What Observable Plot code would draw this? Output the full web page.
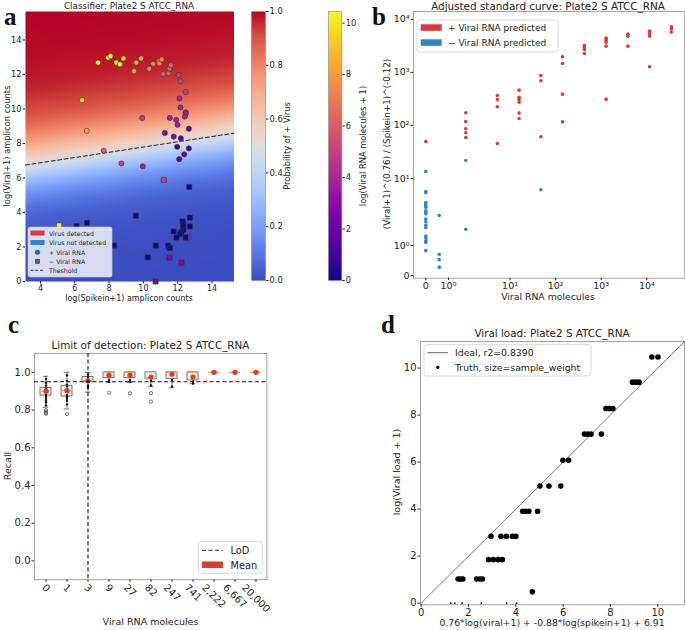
<!DOCTYPE html>
<html><head><meta charset="utf-8">
<script src="https://cdn.jsdelivr.net/npm/d3@7"></script>
<script src="https://cdn.jsdelivr.net/npm/@observablehq/plot@0.6"></script>
<style>
body{margin:0;background:#fff;}
#root{position:relative;width:685px;height:630px;overflow:hidden;background:#fff;}
</style></head>
<body><div id="root"></div>
<script>
// ---------------- DATA ----------------
// Panel a: + Viral RNA samples (circles): spike-in log, viral log, colour value log(viral molecules+1)
const aPosX = [7.36,7.95,8.08,8.43,8.63,8.84,6.43,6.70,9.46,9.58,9.87,10.34,10.57,10.90,10.92,11.07,11.15,11.46,11.52,11.60,12.06,12.16,12.47,12.11,12.16,12.47,12.47,12.41,9.93,11.54,11.91,11.99,12.65,11.25,11.77,12.18,11.97,12.65,7.69,12.38,12.09,8.72,9.97];
const aPosY = [12.69,12.98,13.06,12.69,12.59,12.93,10.51,8.73,12.19,12.69,12.93,12.33,12.62,12.77,12.64,12.87,12.03,12.07,12.34,12.53,11.97,11.61,10.98,10.61,10.09,9.81,9.72,9.56,9.48,9.48,9.37,9.08,8.86,8.61,8.40,8.30,7.81,7.72,7.58,7.37,7.09,6.84,6.68];
const aPosV = [10.45,10.45,10.45,10.45,10.45,9.35,9.35,8.25,8.25,8.25,8.25,7.15,7.15,7.15,7.15,7.15,6.05,6.05,6.05,6.05,5.0,5.0,5.0,3.9,3.9,3.9,3.9,3.9,5.0,3.9,3.9,3.9,1.85,2.85,2.85,1.85,1.05,1.05,6.05,1.85,1.85,5.0,3.9];
// Panel a: - Viral RNA samples (squares)
const aNegX = [11.19,12.67,9.56,5.09,6.10,6.72,12.71,12.28,12.32,12.33,12.71,12.33,12.22,12.14,11.76,11.93,12.55,12.46,8.30,10.72,11.44,11.54,10.26,11.52,12.22,10.71];
const aNegY = [5.89,5.48,3.81,3.25,3.21,3.40,3.70,3.48,3.33,3.17,3.19,3.01,2.86,2.74,2.90,2.55,2.55,2.55,2.08,2.08,2.08,1.94,1.40,1.38,1.09,0.0];
const aNegV = [5.0,0,0,10.45,0,0,0,0,0,0,0,0,0,0,0,0,5.0,0,0,0,0,0,0,2.85,2.85,2.85];
// Panel a: fitted classifier (threshold line y = A + B*x, logistic steepness)
const THR_A = 6.274, THR_B = 0.152, K_UP = 0.75, K_DOWN = 0.95;

// Panel b: viral load levels (x) and adjusted values (y) per level
const bLoads = [0, 0.59, 1.76, 5.27, 15.8, 47.5, 142, 427, 1281, 3844, 11530, 34600];
const bPosVals = [[49.8],[],[173,119,86.5,72.6,59.3],[367,309,225,45.7],[463,341,309,275,171,135],[877,695,61.1],[1972,1476,389,117],[3229,2958,2709,2281],[4426,4063,3707,3127,313],[5275,4832,3127],[6000,5434,4832,1280],[7262,6671,5756]];
const bNegVals = [[13.5,5.68,5.36,3.52,3.33,3.05,2.87,2.45,2.31,2.15,1.88,1.79,1.67,1.59,1.32,1.26,1.17,1.10,0.83],[2.0,0.71,0.53,0.28],[21.8,1.54],[],[],[6.11],[],[],[],[],[],[]];
const bTickVals = [0, 1, 10, 100, 1000, 10000];
const bTickLabels = ["0", "10⁰", "10¹", "10²", "10³", "10⁴"];

// Panel c: recall box statistics per category
const cCats = ["0","1","3","9","27","82","247","741","2,222","6,667","20,000"];
const cQ1   = [0.877,0.872,0.948,0.970,0.970,0.963,0.965,0.957,1,1,1];
const cMed  = [0.900,0.904,0.955,1.000,1.000,0.970,1.000,1.000,1,1,1];
const cQ3   = [0.918,0.929,0.975,1.000,1.000,1.000,1.000,1.000,1,1,1];
const cLo   = [0.815,0.806,0.895,0.947,0.947,0.925,0.918,0.940,1,1,1];
const cHi   = [0.979,1.000,1.000,1.000,1.000,1.000,1.000,1.000,1,1,1];
const cMean = [0.900,0.903,0.955,0.985,0.985,0.975,0.990,0.975,1,1,1];
const cOutlierCat = ["0","0","0","0","1","9","27","82","82"];
const cOutlierVal = [0.800,0.792,0.786,0.780,0.779,0.893,0.889,0.890,0.845];
const cStripCat = ["0","0","0","0","0","0","0","0","0","0","0","1","1","1","1","1","1","1","1","1","1","3","3","3","3","3","9","9","27","27","82","82","247","247","741","741"];
const cStripVal = [0.965,0.945,0.93,0.915,0.895,0.88,0.87,0.86,0.85,0.84,0.825,0.985,0.955,0.935,0.925,0.91,0.88,0.87,0.86,0.85,0.83,0.99,0.975,0.95,0.93,0.92,0.96,0.95,0.96,0.95,0.955,0.93,0.96,0.925,0.95,0.94];
const cLoD = "3", cThreshold = 0.95;

// Panel d: predicted vs truth
const dX = [9.75,10.01,8.93,9.07,9.21,7.81,7.96,8.10,6.90,7.04,7.18,7.62,5.99,6.23,5.02,5.40,5.90,4.29,4.42,4.55,4.92,2.95,3.37,3.60,3.85,4.00,2.85,3.05,3.26,3.43,1.56,1.66,1.76,2.34,2.48,2.59,4.70,1.25,1.42,1.73,2.54,3.61,4.03];
const dY = [10.47,10.47,9.40,9.40,9.40,8.28,8.28,8.28,7.19,7.19,7.19,7.19,6.08,6.08,4.98,4.98,4.98,3.91,3.91,3.91,3.91,2.84,2.84,2.84,2.84,2.84,1.85,1.85,1.85,1.85,1.03,1.03,1.03,1.03,1.03,1.03,0.48,0,0,0,0,0,0];
const dW = [1,1,1,1,1,1,1,1,1,1,1,1,1,1,1,1,1,1,1,1,1,1,1,1,1,1,1,1,1,1,1,1,1,1,1,1,1,0.1,0.1,0.1,0.1,0.1,0.1];
const dMax = 11.13;

// ---------------- STYLE ----------------
const FONT = '"DejaVu Sans", sans-serif';
const SERIF = '"Liberation Serif", "DejaVu Serif", serif';
const RED = "#d83a3a", BLUE = "#3182c6";
const CW = [[59,76,192],[77,104,215],[98,130,234],[119,154,247],[141,176,254],[163,194,255],[184,208,249],[204,217,238],[221,221,221],[236,211,197],[245,196,173],[247,177,148],[244,154,123],[236,127,99],[222,96,77],[203,62,56],[180,4,38]];
const cwScale = d3.scaleLinear().domain(CW.map((_, i) => i / (CW.length - 1))).range(CW.map(c => `rgb(${c})`)).interpolate(d3.interpolateRgb).clamp(true);
const coolwarm = t => cwScale(t);

const root = document.getElementById("root");
function framePlot(f, m, opts, fontSize = 9) {
  const width = f.x1 - f.x0 + m.l + m.r, height = f.y1 - f.y0 + m.t + m.b;
  const p = Plot.plot({width, height, marginLeft: m.l, marginRight: m.r, marginTop: m.t, marginBottom: m.b,
    style: {background: "none", overflow: "visible", fontFamily: FONT, fontSize: fontSize + "px", color: "#222"}, ...opts});
  const d = document.createElement("div");
  d.style.cssText = `position:absolute;left:${f.x0 - m.l}px;top:${f.y0 - m.t}px;width:${width}px;height:${height}px;`;
  d.appendChild(p); root.appendChild(d);
  return p;
}

// ---------------- PANEL A ----------------
const probA = (x, y) => { const d = y - (THR_A + THR_B * x); return 1 / (1 + Math.exp(-(d > 0 ? K_UP : K_DOWN) * d)); };
const aFrame = {x0: 25, y0: 11, x1: 233.5, y1: 281};
const aM = {l: 25, r: 6, t: 11, b: 20};
const aXd = [3.13, 15.28], aYd = [0, 15.65];
framePlot(aFrame, aM, {
  x: {domain: aXd, axis: null}, y: {domain: aYd, axis: null},
  color: {type: "linear", domain: [0, 1], interpolate: () => coolwarm},
  marks: [Plot.raster({fill: probA, x1: aXd[0], x2: aXd[1], y1: aYd[0], y2: aYd[1], pixelSize: 1})]
});
const aPos = aPosX.map((x, i) => ({x, y: aPosY[i], v: aPosV[i]}));
const aNeg = aNegX.map((x, i) => ({x, y: aNegY[i], v: aNegV[i]}));
const thr = aXd.map(x => ({x, y: THR_A + THR_B * x}));
framePlot(aFrame, aM, {
  x: {domain: aXd}, y: {domain: aYd},
  color: {type: "linear", domain: [0, 10.45], scheme: "plasma"},
  marks: [
    Plot.line(thr, {x: "x", y: "y", stroke: "#222", strokeWidth: 1, strokeDasharray: "4,2.5"}),
    Plot.dot(aPos, {x: "x", y: "y", fill: "v", r: 2.6, stroke: "#333", strokeWidth: 0.6}),
    Plot.dot(aNeg, {x: "x", y: "y", fill: "v", r: 2.9, symbol: "square", stroke: "#333", strokeWidth: 0.6}),
    Plot.axisX({ticks: [4,6,8,10,12,14], tickSize: 2.5, tickPadding: 1, fontSize: 8, label: null}),
    Plot.axisY({ticks: [0,2,4,6,8,10,12,14], tickSize: 2.5, tickPadding: 1.5, fontSize: 8.3, label: null})
  ]
}, 8.3);

// colorbar: probability
framePlot({x0: 251, y0: 11, x1: 265, y1: 280}, {l: 2, r: 28, t: 6, b: 6}, {
  x: {domain: [0, 1], axis: null}, y: {domain: [0, 1]},
  color: {type: "linear", domain: [0, 1], interpolate: () => coolwarm},
  marks: [
    Plot.raster({fill: (x, y) => y, x1: 0, x2: 1, y1: 0, y2: 1, pixelSize: 1}),
    Plot.frame({stroke: "#888", strokeWidth: 0.6}),
    Plot.axisY({anchor: "right", ticks: [0,0.2,0.4,0.6,0.8,1], tickFormat: d3.format(".1f"), tickSize: 2.5, tickPadding: 1.5, fontSize: 8.3, label: null})
  ]
}, 8.3);
// colorbar: viral RNA
framePlot({x0: 327.7, y0: 11, x1: 341, y1: 280}, {l: 2, r: 20, t: 6, b: 6}, {
  x: {domain: [0, 1], axis: null}, y: {domain: [0, 10.45]},
  color: {type: "linear", domain: [0, 10.45], scheme: "plasma"},
  marks: [
    Plot.raster({fill: (x, y) => y, x1: 0, x2: 1, y1: 0, y2: 10.45, pixelSize: 1}),
    Plot.frame({stroke: "#888", strokeWidth: 0.6}),
    Plot.axisY({anchor: "right", ticks: [0,2,4,6,8,10], tickSize: 2.5, tickPadding: 1.5, fontSize: 8.3, label: null})
  ]
}, 8.3);

// ---------------- PANEL B ----------------
const symlog = (c, L) => v => v <= c ? v * L / c : L + Math.log10(v / c);
const Tx = symlog(2.5, 1.245), Ty = symlog(2, 1.132);
const bData = [];
bLoads.forEach((load, i) => {
  bPosVals[i].forEach(v => bData.push({load, v, pred: "+"}));
  bNegVals[i].forEach(v => bData.push({load, v, pred: "−"}));
});
const bxTicks = bTickVals.map(Tx), byTicks = bTickVals.map(Ty);
const bxLab = new Map(bxTicks.map((t, i) => [t, bTickLabels[i]]));
const byLab = new Map(byTicks.map((t, i) => [t, bTickLabels[i]]));
framePlot({x0: 412.7, y0: 11, x1: 684, y1: 277.7}, {l: 30, r: 1, t: 11, b: 22}, {
  x: {domain: [-0.27, 5.68]}, y: {domain: [-0.05, 4.98]},
  color: {domain: ["+", "−"], range: [RED, BLUE]},
  marks: [
    Plot.frame({stroke: "#8a8a8a", strokeWidth: 0.8}),
    Plot.dot(bData, {x: d => Tx(d.load), y: d => Ty(d.v), fill: "pred", r: 1.8}),
    Plot.axisX({ticks: bxTicks, tickFormat: t => bxLab.get(t), tickSize: 2.5, tickPadding: 1.5, fontSize: 9.5, label: null}),
    Plot.axisY({ticks: byTicks, tickFormat: t => byLab.get(t), tickSize: 2.5, tickPadding: 1.5, fontSize: 9.5, label: null})
  ]
}, 9.5);

// ---------------- PANEL C ----------------
const cBox = cCats.map((c, i) => ({c, q1: cQ1[i], med: cMed[i], q3: cQ3[i], lo: cLo[i], hi: cHi[i], mean: cMean[i]}));
const cOut = cOutlierCat.map((c, i) => ({c, v: cOutlierVal[i]}));
const cStrip = cStripCat.map((c, i) => ({c, v: cStripVal[i]}));
const mctx = document.createElement("canvas").getContext("2d");
mctx.font = `10px "DejaVu Sans"`;
const cTickText = cCats.map(c => {
  const half = (mctx.measureText(c).width + 7.5) * Math.SQRT1_2 / 2;
  return Plot.text([c], {x: d => d, text: d => d, frameAnchor: "bottom", rotate: 45, textAnchor: "middle", lineAnchor: "middle", dy: 3.5 + half, fontSize: 10, fill: "#222"});
});
framePlot({x0: 34.3, y0: 352.7, x1: 266.7, y1: 579}, {l: 34, r: 12, t: 4, b: 50}, {
  x: {type: "band", domain: cCats, paddingInner: 0.5, paddingOuter: 0.25},
  y: {domain: [-0.1, 1.1]},
  marks: [
    Plot.frame({stroke: "#8a8a8a", strokeWidth: 0.8}),
    Plot.ruleX(cBox, {x: "c", y1: "lo", y2: "q1", stroke: "#555", strokeWidth: 0.8}),
    Plot.ruleX(cBox, {x: "c", y1: "q3", y2: "hi", stroke: "#555", strokeWidth: 0.8}),
    Plot.tickY(cBox, {x: "c", y: "lo", stroke: "#555", strokeWidth: 0.8, insetLeft: 2.7, insetRight: 2.7}),
    Plot.tickY(cBox, {x: "c", y: "hi", stroke: "#555", strokeWidth: 0.8, insetLeft: 2.7, insetRight: 2.7}),
    Plot.barY(cBox, {x: "c", y1: "q1", y2: "q3", fill: "#efefef", stroke: "#555", strokeWidth: 0.8}),
    Plot.dot(cStrip, {x: "c", y: "v", fill: "#111", r: 1.2}),
    Plot.tickY(cBox, {x: "c", y: "med", stroke: "#f4a25a", strokeWidth: 1.3}),
    Plot.dot(cOut, {x: "c", y: "v", stroke: "#444", fill: "none", r: 1.6, strokeWidth: 0.7}),
    Plot.dot(cBox, {x: "c", y: "mean", fill: "#dc3b30", r: 2.6}),
    Plot.ruleY([cThreshold], {stroke: "#111", strokeWidth: 1.1, strokeDasharray: "4,2.5"}),
    Plot.ruleX([cLoD], {stroke: "#111", strokeWidth: 1.1, strokeDasharray: "4,2.5"}),
    Plot.axisX({tickSize: 2.5, tickFormat: () => "", label: null}),
    ...cTickText,
    Plot.axisY({ticks: [0,0.2,0.4,0.6,0.8,1], tickFormat: d3.format(".1f"), tickSize: 2.5, tickPadding: 1.5, fontSize: 10, label: null})
  ]
}, 10);

// ---------------- PANEL D ----------------
const dData = dX.map((x, i) => ({x, y: dY[i], w: dW[i]}));
framePlot({x0: 420, y0: 340.7, x1: 684, y1: 604}, {l: 26, r: 1, t: 4, b: 18}, {
  x: {domain: [-0.03, dMax]}, y: {domain: [-0.07, dMax]},
  r: {domain: [0, 1], range: [0, 2.8]},
  marks: [
    Plot.frame({stroke: "#8a8a8a", strokeWidth: 0.8}),
    Plot.line([0, dMax], {x: d => d, y: d => d, stroke: "#555", strokeWidth: 0.8}),
    Plot.dot(dData, {x: "x", y: "y", r: "w", fill: "#000"}),
    Plot.axisX({ticks: [0,2,4,6,8,10], tickSize: 2.5, tickPadding: 1.5, fontSize: 10, label: null}),
    Plot.axisY({ticks: [0,2,4,6,8,10], tickSize: 2.5, tickPadding: 1.5, fontSize: 10, label: null})
  ]
}, 10);

// ---------------- TEXT & LEGENDS ----------------
const ov = d3.create("svg").attr("width", 685).attr("height", 630)
  .style("position", "absolute").style("left", "0px").style("top", "0px").style("pointer-events", "none")
  .style("font-family", FONT);
function txt(x, y, s, o = {}) {
  const {size = 9, anchor = "middle", rotate = 0, weight = "normal", family = FONT, fill = "#222"} = o;
  ov.append("text").attr("x", x).attr("y", y).attr("text-anchor", anchor)
    .attr("transform", rotate ? `rotate(${rotate},${x},${y})` : null)
    .attr("font-size", size).attr("font-weight", weight).attr("font-family", family).attr("fill", fill).text(s);
}
// panel letters
txt(4, 25, "a", {size: 25, weight: "bold", family: SERIF, anchor: "start", fill: "#111"});
txt(372, 25, "b", {size: 25, weight: "bold", family: SERIF, anchor: "start", fill: "#111"});
txt(8, 333, "c", {size: 25, weight: "bold", family: SERIF, anchor: "start", fill: "#111"});
txt(381, 333, "d", {size: 25, weight: "bold", family: SERIF, anchor: "start", fill: "#111"});
// titles
txt(129, 9, "Classifier: Plate2 S ATCC_RNA", {size: 8.8});
txt(548, 9.5, "Adjusted standard curve: Plate2 S ATCC_RNA", {size: 10.4});
txt(150.5, 349, "Limit of detection: Plate2 S ATCC_RNA", {size: 10.4});
txt(552, 337, "Viral load: Plate2 S ATCC_RNA", {size: 10.4});
// axis labels
txt(129, 301, "log(Spikein+1) amplicon counts", {size: 8});
txt(10, 146, "log(Viral+1) amplicon counts", {size: 8.3, rotate: -90});
txt(290, 146, "Probability of + Virus", {size: 8.3, rotate: -90});
txt(366, 146, "log(Viral RNA molecules + 1)", {size: 8.3, rotate: -90});
txt(390, 144, "(Viral+1)^(0.76) / (Spikein+1)^(-0.12)", {size: 8.8, rotate: -90});
txt(548, 300, "Viral RNA molecules", {size: 9.3});
txt(11, 466, "Recall", {size: 9.5, rotate: -90});
txt(150.5, 625, "Viral RNA molecules", {size: 9.5});
txt(400, 472, "log(Viral load + 1)", {size: 9.5, rotate: -90});
txt(552, 626, "0.76*log(viral+1) + -0.88*log(spikein+1) + 6.91", {size: 9.3});

// legend a
ov.append("rect").attr("x", 28).attr("y", 227).attr("width", 84).attr("height", 50).attr("rx", 2)
  .attr("fill", "#fff").attr("fill-opacity", 0.8).attr("stroke", "#ccc").attr("stroke-width", 0.6);
ov.append("rect").attr("x", 30.5).attr("y", 230.5).attr("width", 14).attr("height", 5).attr("fill", RED);
ov.append("rect").attr("x", 30.5).attr("y", 240).attr("width", 14).attr("height", 5).attr("fill", BLUE);
ov.append("circle").attr("cx", 37.5).attr("cy", 252.3).attr("r", 2.3).attr("fill", "#2b6ca3").attr("stroke", "#333").attr("stroke-width", 0.5);
ov.append("rect").attr("x", 35.3).attr("y", 259.2).attr("width", 4.4).attr("height", 4.4).attr("fill", "#2b6ca3").attr("stroke", "#333").attr("stroke-width", 0.5);
ov.append("line").attr("x1", 30.5).attr("x2", 44.5).attr("y1", 270.3).attr("y2", 270.3).attr("stroke", "#222").attr("stroke-width", 0.9).attr("stroke-dasharray", "3,1.8");
[["Virus detected", 235.5], ["Virus not detected", 245], ["+ Viral RNA", 254.6], ["− Viral RNA", 264], ["Theshold", 273]]
  .forEach(([s, y]) => txt(49, y, s, {size: 6.2, anchor: "start"}));

// legend b
ov.append("rect").attr("x", 417).attr("y", 20).attr("width", 141).attr("height", 32).attr("rx", 2.5)
  .attr("fill", "#fff").attr("fill-opacity", 0.85).attr("stroke", "#ccc").attr("stroke-width", 0.7);
ov.append("rect").attr("x", 420.7).attr("y", 24.3).attr("width", 21).attr("height", 6.5).attr("fill", RED);
ov.append("rect").attr("x", 420.7).attr("y", 39.3).attr("width", 21).attr("height", 6.5).attr("fill", BLUE);
txt(448, 31, "+ Viral RNA predicted", {size: 9, anchor: "start"});
txt(448, 46, "− Viral RNA predicted", {size: 9, anchor: "start"});

// legend c
ov.append("rect").attr("x", 198.3).attr("y", 541.7).attr("width", 64).attr("height", 31.6).attr("rx", 2.5)
  .attr("fill", "#fff").attr("fill-opacity", 0.85).attr("stroke", "#ccc").attr("stroke-width", 0.7);
ov.append("line").attr("x1", 202).attr("x2", 223).attr("y1", 550.3).attr("y2", 550.3).attr("stroke", "#222").attr("stroke-width", 1.1).attr("stroke-dasharray", "4,2.5");
ov.append("rect").attr("x", 202).attr("y", 561.5).attr("width", 21).attr("height", 6.5).attr("fill", "#dc3b30");
txt(230.5, 553.8, "LoD", {size: 9.8, anchor: "start"});
txt(230.5, 568.5, "Mean", {size: 9.8, anchor: "start"});

// legend d
ov.append("rect").attr("x", 424).attr("y", 344.7).attr("width", 167).attr("height", 31.3).attr("rx", 2.5)
  .attr("fill", "#fff").attr("fill-opacity", 0.85).attr("stroke", "#ccc").attr("stroke-width", 0.7);
ov.append("line").attr("x1", 427.5).attr("x2", 448).attr("y1", 352.7).attr("y2", 352.7).attr("stroke", "#555").attr("stroke-width", 0.9);
ov.append("circle").attr("cx", 437.8).attr("cy", 367.3).attr("r", 1.6).attr("fill", "#000");
txt(455, 356, "Ideal, r2=0.8390", {size: 9.3, anchor: "start"});
txt(455, 370.5, "Truth, size=sample_weight", {size: 9.3, anchor: "start"});

root.appendChild(ov.node());
</script>
</body></html>
